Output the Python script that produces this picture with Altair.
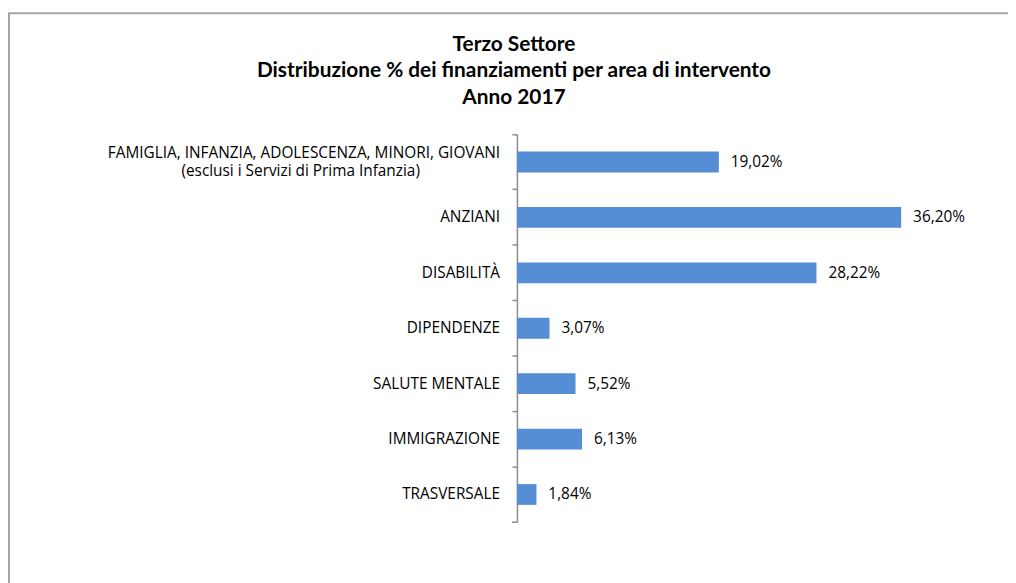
import altair as alt
import pandas as pd

categories = [
    "FAMIGLIA, INFANZIA, ADOLESCENZA, MINORI, GIOVANI",
    "ANZIANI",
    "DISABILITÀ",
    "DIPENDENZE",
    "SALUTE MENTALE",
    "IMMIGRAZIONE",
    "TRASVERSALE",
]
subline = "(esclusi i Servizi di Prima Infanzia)"
values = [19.02, 36.20, 28.22, 3.07, 5.52, 6.13, 1.84]
title_lines = ["Terzo Settore", "Distribuzione % dei finanziamenti per area di intervento", "Anno 2017"]

df = pd.DataFrame({"cat": categories, "val": values})
df["lab"] = df["val"].map(lambda v: f"{v:.2f}".replace(".", ",") + "%")
df["order"] = range(len(df))

FONT = "Open Sans"
TFONT = "Lato"
FS = 15.5
BLUE = "#558ed5"
GRAY = "#8c8c8c"

y_enc = alt.Y("cat:N", sort=categories,
              scale=alt.Scale(paddingInner=0, paddingOuter=0),
              axis=alt.Axis(title=None, labels=False, bandPosition=0, ticks=True,
                            tickSize=5, tickColor=GRAY, domainColor=GRAY,
                            domainWidth=1.5, tickWidth=1.5, grid=False))
x_enc = alt.X("val:Q", scale=alt.Scale(domain=[0, 40]), axis=None)

base = alt.Chart(df)

bars = base.mark_bar(color=BLUE, height=alt.RelativeBandSize(0.375)).encode(x=x_enc, y=y_enc)

vals = base.mark_text(align="left", baseline="middle", dx=12, font=FONT, fontSize=FS,
                      color="#000000").encode(x=x_enc, y=y_enc, text="lab:N")

single = base.transform_filter("datum.order > 0").mark_text(
    align="right", baseline="middle", font=FONT, fontSize=FS, color="#000000"
).encode(x=alt.value(-17), y=y_enc, text="cat:N")

first1 = base.transform_filter("datum.order == 0").mark_text(
    align="right", baseline="middle", dy=-9.5, font=FONT, fontSize=FS, color="#000000"
).encode(x=alt.value(-17), y=y_enc, text="cat:N")

first2 = base.transform_filter("datum.order == 0").mark_text(
    align="center", baseline="middle", dy=9.5, font=FONT, fontSize=FS, color="#000000",
    text=subline
).encode(x=alt.value(-218), y=y_enc)

bottom_tick = alt.Chart(pd.DataFrame({"a": [0]})).mark_rule(color=GRAY, strokeWidth=1.5).encode(
    x=alt.value(-5), x2=alt.value(0), y=alt.value(391))

title = alt.Chart(pd.DataFrame({"a": [0]})).mark_text(
    text=title_lines, font=TFONT, fontSize=21, fontWeight="bold", lineHeight=26.5,
    align="center", baseline="middle", color="#000000"
).encode(x=alt.value(-3), y=alt.value(-90))

border = alt.Chart(pd.DataFrame({"a": [0]})).mark_rect(
    fill=None, stroke="#a6a6a6", strokeWidth=2
).encode(x=alt.value(-512), x2=alt.value(1000), y=alt.value(-122), y2=alt.value(1000))

chart = alt.layer(border, bars, vals, single, first1, first2, bottom_tick, title).properties(
    width=428, height=391,
    autosize=alt.AutoSizeParams(type="none"),
    padding={"left": 513, "top": 125, "right": 67, "bottom": 59},
).configure_view(stroke=None)

chart.save("out.html", embed_options={"renderer": "svg", "actions": False})
